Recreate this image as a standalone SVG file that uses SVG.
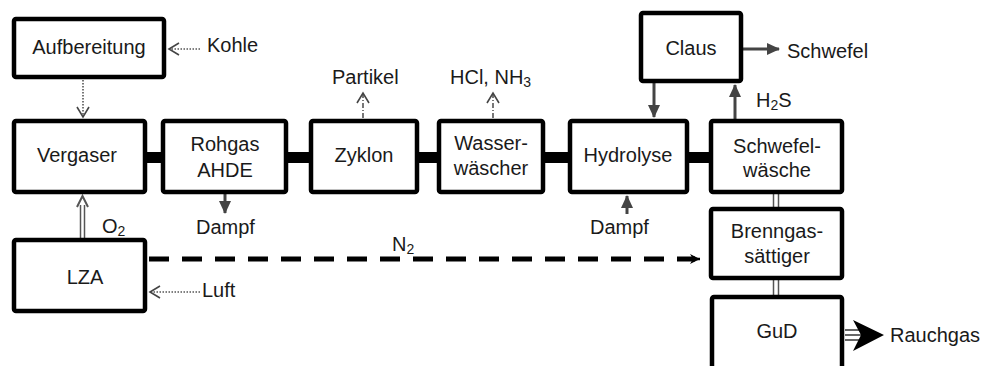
<svg xmlns="http://www.w3.org/2000/svg" width="984" height="366" viewBox="0 0 984 366">
<defs>
<style>
.box{fill:#fff;stroke:#000;stroke-width:4.5}
.t{font-family:"Liberation Sans",Arial,sans-serif;font-size:20px;fill:#1a1a1a}
.c{text-anchor:middle}
.bar{fill:#000}
.dot{fill:none;stroke:#555;stroke-width:1.6;stroke-dasharray:1.5 1.5}
.dd{fill:none;stroke:#555;stroke-width:1.6;stroke-dasharray:5 2 1 2}
.solid{fill:none;stroke:#444;stroke-width:3}
.dbl{fill:none;stroke:#555;stroke-width:1.5}
</style>
<marker id="open" markerWidth="14" markerHeight="14" refX="11" refY="7" orient="auto" markerUnits="userSpaceOnUse">
<path d="M1,1 L11,7 L1,13" fill="none" stroke="#444" stroke-width="1.6"/>
</marker>
<marker id="fill" markerWidth="14" markerHeight="14" refX="12" refY="7" orient="auto" markerUnits="userSpaceOnUse">
<path d="M0,1 L13,7 L0,13 Z" fill="#444"/>
</marker>
<marker id="small" markerWidth="12" markerHeight="12" refX="10" refY="6" orient="auto" markerUnits="userSpaceOnUse">
<path d="M0,1 L10,6 L0,11 L3,6 Z" fill="#000"/>
</marker>
</defs>

<g id="connectors">
<rect class="bar" x="146" y="152" width="16" height="11"/>
<rect class="bar" x="287" y="152" width="23" height="11"/>
<rect class="bar" x="418" y="152" width="20" height="11"/>
<rect class="bar" x="544" y="152" width="25" height="11"/>
<rect class="bar" x="688" y="152" width="22" height="11"/>
<line class="dot" x1="200" y1="49" x2="169" y2="49" marker-end="url(#open)"/>
<line class="dot" x1="83" y1="80" x2="83" y2="117" marker-end="url(#open)"/>
<line class="dot" x1="200" y1="292" x2="150" y2="292" marker-end="url(#open)"/>
<line class="dbl" x1="80.5" y1="238" x2="80.5" y2="205"/>
<line class="dbl" x1="84.5" y1="238" x2="84.5" y2="205"/>
<path d="M77,207 L82.5,196 L88,207" fill="none" stroke="#555" stroke-width="2"/>
<line class="solid" x1="225" y1="194" x2="225" y2="213" marker-end="url(#fill)"/>
<line class="dd" x1="363" y1="118" x2="363" y2="93" marker-end="url(#open)"/>
<line class="dd" x1="493" y1="118" x2="493" y2="93" marker-end="url(#open)"/>
<line class="solid" x1="627" y1="214" x2="627" y2="196" marker-end="url(#fill)"/>
<line class="solid" x1="654" y1="83" x2="654" y2="117" marker-end="url(#fill)"/>
<line class="solid" x1="735" y1="119" x2="735" y2="85" marker-end="url(#fill)"/>
<line class="solid" x1="743" y1="49" x2="779" y2="49" marker-end="url(#fill)"/>
<line x1="149" y1="259" x2="695" y2="259" stroke="#000" stroke-width="5" stroke-dasharray="20 13"/>
<line x1="690" y1="259" x2="700" y2="259" stroke="#000" stroke-width="2.5" marker-end="url(#small)"/>
<line class="dbl" x1="773.5" y1="194" x2="773.5" y2="208"/>
<line class="dbl" x1="778.5" y1="194" x2="778.5" y2="208"/>
<line class="dbl" x1="773.5" y1="280" x2="773.5" y2="296"/>
<line class="dbl" x1="778.5" y1="280" x2="778.5" y2="296"/>
<line x1="845" y1="330" x2="866" y2="330" stroke="#333" stroke-width="1.5"/>
<line x1="845" y1="335" x2="866" y2="335" stroke="#333" stroke-width="1.5"/>
<line x1="845" y1="340" x2="866" y2="340" stroke="#333" stroke-width="1.5"/>
<path d="M853,320 L884,335 L853,351 L861,335 Z" fill="#000"/>
</g>

<g id="aufbereitung"><rect class="box" x="14" y="19" width="150" height="58" rx="2"/><text class="t c" x="89" y="54">Aufbereitung</text></g>
<g id="vergaser"><rect class="box" x="14" y="121" width="131" height="71" rx="2"/><text class="t c" x="77" y="162">Vergaser</text></g>
<g id="rohgas"><rect class="box" x="163" y="121" width="123" height="71" rx="2"/><text class="t c" x="225" y="151">Rohgas</text><text class="t c" x="225" y="177">AHDE</text></g>
<g id="zyklon"><rect class="box" x="311" y="121" width="106" height="71" rx="2"/><text class="t c" x="364" y="162">Zyklon</text></g>
<g id="wasserwaescher"><rect class="box" x="439" y="121" width="104" height="71" rx="2"/><text class="t c" x="491" y="150">Wasser-</text><text class="t c" x="491" y="175">wäscher</text></g>
<g id="hydrolyse"><rect class="box" x="570" y="121" width="117" height="71" rx="2"/><text class="t c" x="628" y="162">Hydrolyse</text></g>
<g id="schwefelwaesche"><rect class="box" x="711" y="121" width="131" height="71" rx="2"/><text class="t c" x="777" y="153">Schwefel-</text><text class="t c" x="777" y="177">wäsche</text></g>
<g id="claus"><rect class="box" x="641" y="13" width="100" height="68" rx="2"/><text class="t c" x="691" y="55">Claus</text></g>
<g id="brenngas"><rect class="box" x="711" y="209" width="131" height="69" rx="2"/><text class="t c" x="777" y="238">Brenngas-</text><text class="t c" x="777" y="263">sättiger</text></g>
<g id="gud"><rect class="box" x="712" y="297" width="130" height="80" rx="2"/><text class="t c" x="777" y="338">GuD</text></g>
<g id="lza"><rect class="box" x="14" y="240" width="131" height="71" rx="2"/><text class="t c" x="85" y="284">LZA</text></g>

<g id="labels">
<text class="t" x="207" y="52">Kohle</text>
<text class="t" x="102" y="233">O<tspan font-size="14" dy="3">2</tspan></text>
<text class="t" x="196" y="234">Dampf</text>
<text class="t" x="202" y="297">Luft</text>
<text class="t" x="332" y="84">Partikel</text>
<text class="t" x="450" y="84">HCl,  NH<tspan font-size="14" dy="3">3</tspan></text>
<text class="t" x="392" y="251">N<tspan font-size="14" dy="3">2</tspan></text>
<text class="t" x="590" y="234">Dampf</text>
<text class="t" x="756" y="107">H<tspan font-size="14" dy="3">2</tspan><tspan dy="-3">S</tspan></text>
<text class="t" x="787" y="58">Schwefel</text>
<text class="t" x="890" y="342">Rauchgas</text>
</g>
</svg>
